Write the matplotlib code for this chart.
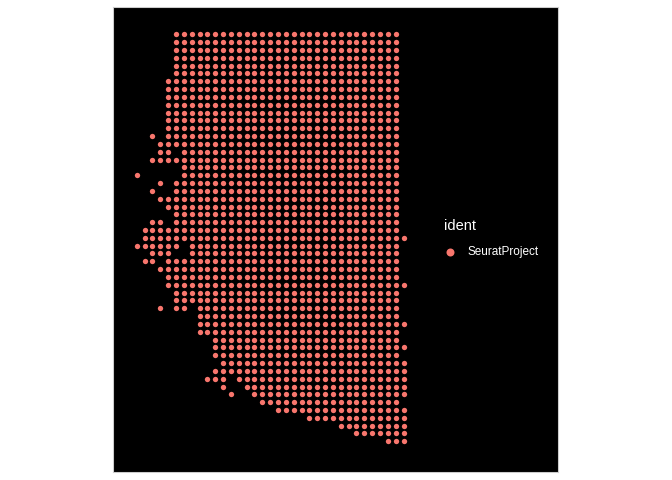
import matplotlib
matplotlib.use("Agg")
import matplotlib.pyplot as plt
import numpy as np

plt.rcParams["font.family"] = ["Liberation Sans", "DejaVu Sans"]

# Spot grid: for each array row (top to bottom), runs of occupied columns (first, last)
spot_rows = [
    [(5, 33)], [(5, 33)], [(5, 33)], [(5, 33)], [(5, 33)], [(5, 33)],           # 0-5
    [(4, 33)], [(4, 33)], [(4, 33)], [(4, 33)], [(4, 33)], [(4, 33)], [(4, 33)], # 6-12
    [(2, 2), (4, 33)],                 # 13
    [(3, 33)],                         # 14
    [(3, 4), (6, 33)],                 # 15
    [(2, 33)],                         # 16
    [(6, 33)],                         # 17
    [(0, 0), (6, 33)],                 # 18
    [(3, 3), (5, 33)],                 # 19
    [(2, 2), (5, 33)],                 # 20
    [(3, 33)],                         # 21
    [(4, 33)],                         # 22
    [(5, 33)],                         # 23
    [(2, 3), (5, 33)],                 # 24
    [(1, 33)],                         # 25
    [(1, 34)],                         # 26
    [(0, 5), (7, 33)],                 # 27
    [(2, 4), (7, 33)],                 # 28
    [(1, 2), (4, 33)],                 # 29
    [(3, 33)],                         # 30
    [(4, 33)],                         # 31
    [(4, 34)],                         # 32
    [(5, 33)],                         # 33
    [(5, 33)],                         # 34
    [(3, 3), (5, 6), (8, 33)],         # 35
    [(8, 33)],                         # 36
    [(8, 34)],                         # 37
    [(8, 33)],                         # 38
    [(10, 33)],                        # 39
    [(10, 34)],                        # 40
    [(10, 33)],                        # 41
    [(11, 34)],                        # 42
    [(10, 34)],                        # 43
    [(9, 11), (13, 34)],               # 44
    [(11, 11), (14, 34)],              # 45
    [(12, 12), (15, 34)],              # 46
    [(16, 33)],                        # 47
    [(18, 34)],                        # 48
    [(22, 34)],                        # 49
    [(26, 34)],                        # 50
    [(28, 34)],                        # 51
    [(32, 34)],                        # 52
]
ident_levels = ["SeuratProject"]
ident_colors = ["#F8766D"]

# expand runs into spot coordinates
spot_col = []
spot_row = []
for r, runs in enumerate(spot_rows):
    for first, last in runs:
        for c in range(first, last + 1):
            spot_col.append(c)
            spot_row.append(r)
spot_col = np.array(spot_col)
spot_row = np.array(spot_row)

W, H = 672, 480
fig = plt.figure(figsize=(7, 5), dpi=96, facecolor="white")

# black plot area
x0, x1, y0, y1 = 113.3, 558.3, 7.0, 472.0
ax = fig.add_axes([x0 / W, 1 - y1 / H, (x1 - x0) / W, (y1 - y0) / H])
ax.set_facecolor("black")
for s in ax.spines.values():
    s.set_color("#cccccc")
    s.set_linewidth(0.8)
ax.set_xticks([])
ax.set_yticks([])

ax.scatter(spot_col, spot_row, s=16, c=ident_colors[0], linewidths=0,
           label=ident_levels[0])
ax.set_xlim(-2.99, 53.73)
ax.set_ylim(55.92, -3.49)

leg = ax.legend(title="ident", loc="upper left",
                bbox_to_anchor=(444.1 / W, 1 - 219.5 / H),
                bbox_transform=fig.transFigure, frameon=False,
                fontsize=8.8, title_fontsize=11, markerscale=1.5,
                handlelength=1.0, handletextpad=1.0, borderpad=0,
                labelspacing=1.1, borderaxespad=0, alignment="left")
leg.get_title().set_color("white")
for t in leg.get_texts():
    t.set_color("white")

fig.savefig("out.png", dpi=96, facecolor="white")
